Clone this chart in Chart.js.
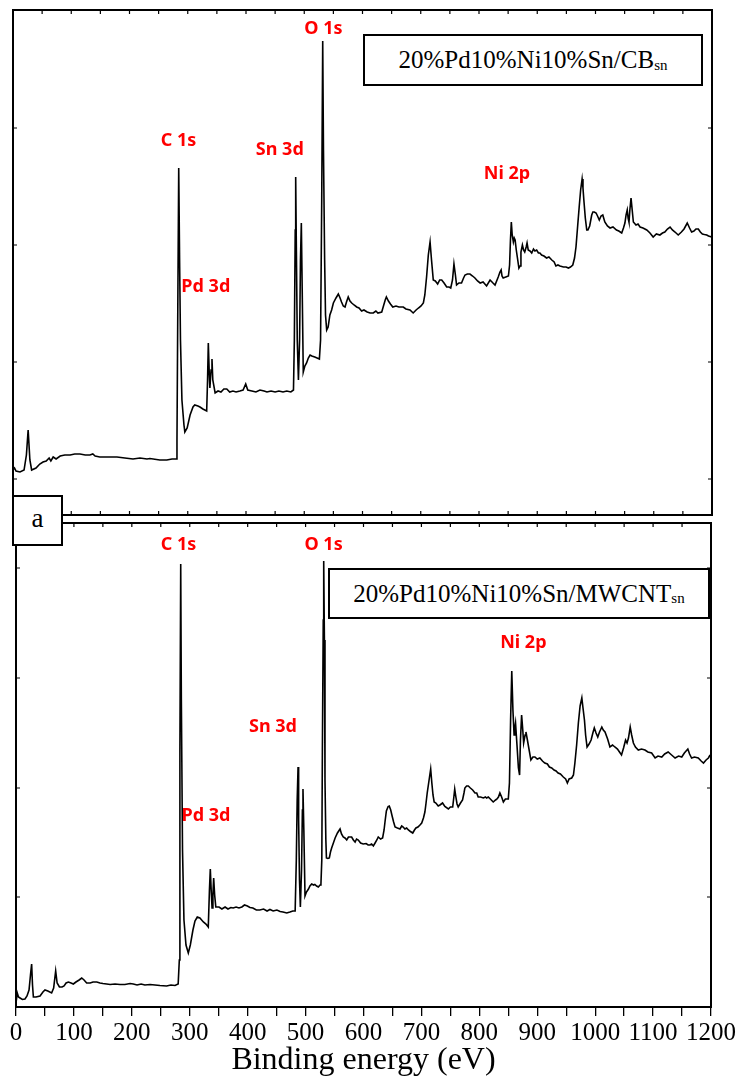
<!DOCTYPE html>
<html>
<head>
<meta charset="utf-8">
<title>XPS survey spectra</title>
<script src="https://cdn.jsdelivr.net/npm/chart.js@4.4.1/dist/chart.umd.min.js"></script>
<style>
  html, body { margin: 0; padding: 0; background: #fff; }
  #wrap { position: relative; width: 740px; height: 1083px; overflow: hidden; background: #fff; }
  #wrap canvas { position: absolute; left: 0; top: 0; }
  .sample {
    position: absolute; box-sizing: border-box; border: 2px solid #000; background: #fff;
    font-family: "Liberation Serif", "Times New Roman", serif; font-size: 25px; color: #000;
    display: flex; align-items: center; justify-content: center; white-space: nowrap; z-index: 5;
  }
  .sample sub { font-size: 15px; vertical-align: baseline; position: relative; top: 5px; }
  .tag { font-size: 27px; padding-bottom: 4px; }
</style>
</head>
<body>
<div id="wrap">
  <canvas id="cbChart" width="740" height="1083"></canvas>
  <canvas id="mwChart" width="740" height="1083"></canvas>
  <div class="sample" style="left:363px;top:34px;width:340px;height:52px;">20%Pd10%Ni10%Sn/CB<sub>sn</sub></div>
  <div class="sample" style="left:328px;top:568px;width:382px;height:51px;">20%Pd10%Ni10%Sn/MWCNT<sub>sn</sub></div>
  <div class="sample tag" style="left:12px;top:495px;width:51px;height:51px;">a</div>
</div>
<script>
// Binding-energy axis ticks (eV)
const energyTicks = [0, 50, 100, 150, 200, 250, 300, 350, 400, 450, 500, 550, 600,
                     650, 700, 750, 800, 850, 900, 950, 1000, 1050, 1100, 1150, 1200];
const energyLabels = [0, 100, 200, 300, 400, 500, 600, 700, 800, 900, 1000, 1100, 1200];

// Unlabelled intensity ticks (arbitrary units)
const cbIntensityTicks = [36, 153, 270, 387];
const mwIntensityTicks = [110, 219, 329, 439];

// 20%Pd10%Ni10%Sn/CBsn survey spectrum
const cbEnergy = [
  0, 2.6, 5.2, 12, 19, 23, 26, 29, 32, 39.5,
  46, 51.5, 57, 62, 65, 69, 74, 81, 89, 98,
  106, 115, 124, 132, 137, 141, 149, 166.5, 178.5, 192,
  206, 218, 230, 235, 252, 264, 273, 280, 281.5, 283,
  284.5, 286, 287.5, 290, 293.5, 295, 299, 304, 309, 312,
  317.5, 321, 326, 332.5, 334, 335.3, 337, 338, 340, 341.6,
  343, 347, 352, 357, 362, 367, 372, 377.5, 383, 389.5,
  395, 399.5, 403, 410, 417, 424, 431, 436, 443, 450,
  456.5, 463.5, 470, 477, 481.5, 483, 484.5, 485.3, 486.5, 488,
  490, 492, 493.5, 495, 496.5, 498.3, 501, 504, 507, 510,
  513, 518, 522, 526, 528, 530, 531.7, 533, 535, 536.5,
  538.5, 541, 544, 547, 550, 554.5, 558.5, 561.5, 564, 567,
  570, 572.5, 575.5, 578.5, 581.5, 585.5, 590, 594, 598.5, 602.5,
  608, 613, 618.5, 623, 626.5, 633, 636, 639, 641, 644.5,
  648, 652, 657.5, 662.5, 670, 674.5, 681.5, 687, 692, 696,
  700.5, 704.5, 707, 710, 713, 716, 718.5, 721.5, 725, 729,
  732.5, 736, 740, 744.5, 748.5, 751.5, 754.5, 757, 759.5, 761.5,
  765.5, 770, 773.5, 776, 780, 784.5, 789, 793, 797.5, 802,
  807, 813, 819, 824, 827.5, 833, 836, 838, 839.5, 841.5,
  846, 850.5, 852.5, 854, 855.5, 857, 859, 860.5, 862, 864,
  866.5, 868.5, 870.5, 872, 874.5, 876.5, 878.5, 881, 882.5, 884.5,
  887.5, 890.5, 893.5, 896, 899, 902, 904.5, 907.5, 911.5, 916,
  920, 925, 929, 932, 935.5, 939, 945, 949.5, 953.5, 957,
  961, 964, 966.5, 969.5, 972, 974.5, 977, 978.5, 980, 982.5,
  985, 987, 990, 993.5, 995.5, 998, 1001, 1003.5, 1006.5, 1009.5,
  1012.5, 1016, 1020.5, 1025, 1030, 1036, 1040, 1045, 1048, 1050.5,
  1052.5, 1054.5, 1056, 1057.5, 1059, 1061, 1063, 1065, 1069.5, 1073,
  1076.5, 1081.5, 1088, 1093.5, 1099, 1104.5, 1110.5, 1115, 1119, 1123.5,
  1128, 1132, 1136.5, 1142, 1147.5, 1152, 1157.5, 1161.5, 1165, 1169,
  1172.5, 1176.5, 1180, 1183.5, 1187, 1191, 1194, 1199.5
];
const cbIntensity = [
  45, 47, 44, 43, 45, 60, 85, 55, 45, 47,
  51, 53, 54, 57, 54, 58, 56, 59, 60, 60,
  61, 61, 60, 60, 61, 59, 58, 58, 58, 57,
  56, 57, 56, 56.5, 55, 55, 56, 56, 75, 215,
  347, 255, 175, 115, 90, 83, 87, 100, 108, 110,
  109, 108, 106, 104, 135, 172, 140, 127, 145, 156,
  135, 122, 124, 123, 126, 126, 123, 124, 123, 124,
  125, 131, 125, 124, 123, 125, 124, 123, 124, 123,
  124, 123, 124, 123, 125, 175, 285, 338, 265, 175,
  135, 175, 255, 292, 225, 143, 149, 152, 157, 160,
  159, 158, 157, 156, 175, 315, 474, 365, 255, 200,
  185, 188, 200, 205, 212, 217, 221, 217, 213, 209,
  208, 213, 218, 214, 212, 210, 208, 207, 204, 205,
  203, 202, 202, 204, 202, 203, 209, 215, 218, 214,
  211, 208, 209, 208, 208, 206, 205, 202, 205, 207,
  209, 212, 220, 238, 260, 273, 255, 235, 234, 231,
  235, 235, 232, 228, 228, 227, 235, 251, 240, 230,
  232, 232, 237, 240, 241, 241, 239, 237, 234, 232,
  233, 229, 235, 232, 230, 238, 243, 245, 239, 237,
  238, 239, 250, 275, 293, 280, 273, 277, 275, 265,
  255, 247, 249, 263, 270, 265, 263, 268, 272, 265,
  264, 262, 266, 264, 265, 262, 262, 260, 259, 257,
  258, 255, 253, 249, 250, 249, 248, 248, 247, 248,
  250, 257, 268, 290, 308, 325, 336, 327, 315, 297,
  285, 285, 289, 300, 303, 303, 302, 299, 295, 299,
  300, 293, 289, 287, 288, 285, 284, 282, 287, 292,
  300, 305, 297, 293, 305, 317, 305, 293, 290, 291,
  288, 287, 285, 282, 278, 281, 280, 282, 283, 286,
  288, 285, 283, 280, 283, 286, 292, 287, 283, 284,
  286, 286, 283, 281, 280.5, 280, 279, 278
];

// 20%Pd10%Ni10%Sn/MWCNTsn survey spectrum
const mwEnergy = [
  0, 2.2, 4.3, 7, 11, 15.5, 19, 22.5, 25, 27,
  28.5, 30, 34.5, 41.5, 46.5, 50, 55, 61.5, 65, 68.5,
  71, 75, 79.5, 83, 86.5, 90.5, 95, 99, 103.5, 109,
  113.5, 117.5, 122, 128, 133, 139.5, 145, 150, 156.5, 162.5,
  171, 179.5, 188, 197, 202.5, 209, 216, 222.5, 231.5, 240,
  248.5, 260, 267.5, 274.5, 280, 282, 283, 284.4, 285.5, 287.5,
  290, 293.5, 297.5, 301, 305.5, 309, 313, 317.5, 323.5, 328,
  332, 334, 335.5, 337, 338.5, 340, 341.3, 343, 345, 350.5,
  355.5, 361, 366, 371, 375, 380, 385, 390, 394.5, 399.5,
  404, 409, 415, 421, 427.5, 433.5, 438.5, 444, 450.5, 456,
  461, 467.5, 473, 478, 482, 484, 485.5, 487, 488, 489.5,
  491, 493, 494.5, 495.5, 497, 499, 501.5, 505, 507.5, 510.5,
  514, 516, 519, 522, 525, 526.5, 528, 529, 530.5, 531.3,
  532.5, 533.5, 535, 536, 538.5, 541, 543, 545, 548, 551,
  555, 559.5, 562, 565, 568, 571, 574, 579.5, 582.5, 585.5,
  588, 591, 595, 599.5, 604.5, 608, 611, 614, 617, 620,
  623, 625.5, 629.5, 633, 635.5, 637.5, 639.5, 642.5, 644.5, 647,
  649, 652, 654.5, 658.5, 663, 666, 668.5, 671.5, 674.5, 677.5,
  681, 685, 688, 690.5, 694, 697.5, 700.5, 703.5, 706, 708,
  710, 713, 716, 718, 720, 722, 725, 729, 732, 736.5,
  740.5, 746.5, 750, 754, 756, 757.5, 759.5, 761.5, 763.5, 767.5,
  771, 773.5, 775, 778, 781, 784.5, 788.5, 792.5, 795.5, 798,
  802, 807, 810.5, 812.5, 815.5, 819, 824, 828, 830.5, 833,
  835.5, 838.5, 841.5, 845, 850, 852, 854, 856, 858, 860,
  861.5, 862.5, 865, 867.5, 869.5, 871, 873, 875, 876.5, 879,
  880.5, 883, 886, 889, 892.5, 896, 900, 904.5, 909, 913,
  917.5, 921, 925, 929, 932.5, 936, 940, 945, 949, 952,
  955, 959.5, 962.5, 965, 968, 971, 974, 977, 979, 981.5,
  983.5, 986, 989.5, 993, 996, 998.5, 1001.5, 1004.5, 1007.5, 1011.5,
  1014, 1017, 1021.5, 1025.5, 1030, 1034, 1038.5, 1042, 1045.5, 1049,
  1052.5, 1055, 1057.5, 1060.5, 1063, 1066, 1069.5, 1074.5, 1080, 1086,
  1091, 1097.5, 1103.5, 1108.5, 1115, 1120, 1126, 1132, 1138, 1144,
  1149.5, 1154, 1160, 1163, 1166.5, 1171.5, 1178, 1183, 1187, 1191.5,
  1195.5, 1198.5
];
const mwIntensity = [
  4, 14, 10, 9, 7.5, 8, 11, 17, 32, 43,
  22, 10, 10, 11, 15, 17, 16, 14, 19, 36,
  24, 20, 20, 21, 24, 25, 24, 23, 25, 27,
  29, 27, 24, 24, 25, 25, 24, 23.5, 23, 22.5,
  23, 22.5, 22.5, 23.5, 23, 22, 23, 22, 22.5, 22,
  21.5, 21, 22, 21.5, 23, 47, 257, 443, 307, 157,
  87, 62, 54, 62, 77, 86, 90, 89, 85, 83,
  80, 117, 138, 117, 99, 112, 129, 112, 100, 100,
  98, 100, 98, 99.5, 99, 100, 99, 100, 102, 101,
  99.5, 99, 97, 97, 98, 96, 97.5, 96, 97, 95.5,
  95, 94, 95, 96, 96, 147, 207, 240, 187, 127,
  100, 137, 197, 218, 177, 111, 115, 118, 121, 123,
  122, 122.5, 121, 120, 122, 123, 147, 257, 387, 446,
  367, 227, 167, 149, 148.5, 149, 155, 159, 164, 169,
  174, 178, 173, 170, 169, 167, 170, 170, 167, 165,
  168, 167, 164, 163, 163.5, 162, 162, 163, 161, 164,
  167, 170, 168, 169, 177, 187, 196, 200.5, 201, 197,
  192, 185, 180, 179, 178, 181, 180, 178, 179, 177,
  175.5, 174, 177, 179, 180, 182, 184, 189, 195, 204,
  214, 226, 238, 224, 212, 205, 204, 201, 202, 204,
  200.5, 198, 200, 200, 210, 218, 210, 203, 200, 204,
  207, 214, 219, 221, 221, 219, 217, 214, 214, 210,
  210, 209, 210, 209, 210, 208, 205, 207, 208, 210,
  214, 210, 205, 208, 208, 224, 287, 336, 297, 272,
  280, 284, 262, 239, 232, 267, 292, 277, 264, 272,
  275, 267, 257, 247, 250, 250, 248, 249, 246, 244,
  243, 240, 239, 237, 236, 234, 233, 230, 228, 224,
  228, 229, 232, 244, 262, 284, 301, 309, 299, 287,
  272, 260, 263, 267, 274, 279, 274, 270, 275, 280,
  277, 275, 268, 260, 262, 260, 258, 255, 252, 259,
  267, 264, 269, 280, 272, 264, 260, 257, 258, 257,
  255, 254, 249, 251, 250, 253, 255, 252, 249, 251,
  250, 254, 258, 253, 249, 250, 249, 246, 244, 247,
  249, 252
];

// Peak assignments: text, energy (eV) and baseline level on the intensity scale
const cbPeakNames = [
  { text: 'O 1s',  energy: 533, level: 481 },
  { text: 'C 1s',  energy: 284, level: 369 },
  { text: 'Sn 3d', energy: 458, level: 360 },
  { text: 'Ni 2p', energy: 848, level: 336.5 },
  { text: 'Pd 3d', energy: 331, level: 223 }
];
const mwPeakNames = [
  { text: 'C 1s',  energy: 280.6, level: 457 },
  { text: 'O 1s',  energy: 531, level: 457 },
  { text: 'Ni 2p', energy: 876, level: 359 },
  { text: 'Sn 3d', energy: 443.7, level: 275 },
  { text: 'Pd 3d', energy: 328, level: 186.3 }
];

function toPoints(xs, ys) {
  return xs.map((e, i) => ({ x: e, y: ys[i] }));
}

// Draws the boxed frame, inward ticks and red peak names of one panel
const panelFrame = {
  id: 'panelFrame',
  afterDatasetsDraw(chart, args, opts) {
    const { ctx, chartArea: a } = chart;
    const x = chart.scales.x, y = chart.scales.y;
    ctx.save();
    ctx.strokeStyle = '#000';
    ctx.lineWidth = 1.2;
    ctx.beginPath();
    for (const e of energyTicks) {
      const px = x.getPixelForValue(e);
      ctx.moveTo(px, a.top); ctx.lineTo(px, a.top + 4);
      if (opts.innerBottomTicks) { ctx.moveTo(px, a.bottom); ctx.lineTo(px, a.bottom - 4); }
    }
    for (const v of opts.yTicks) {
      const py = y.getPixelForValue(v);
      ctx.moveTo(a.left, py); ctx.lineTo(a.left + 4, py);
      ctx.moveTo(a.right, py); ctx.lineTo(a.right - 4, py);
    }
    ctx.stroke();
    ctx.lineWidth = 2;
    ctx.strokeRect(a.left, a.top, a.right - a.left, a.bottom - a.top);

    ctx.fillStyle = '#ff0000';
    ctx.font = 'bold 18px "Noto Sans", "Open Sans", sans-serif';
    ctx.textAlign = 'center';
    ctx.textBaseline = 'alphabetic';
    for (const p of opts.peaks) {
      ctx.fillText(p.text, x.getPixelForValue(p.energy), y.getPixelForValue(p.level));
    }
    ctx.restore();
  }
};

const lineStyle = {
  borderColor: '#000',
  borderWidth: 1.6,
  pointRadius: 0,
  tension: 0,
  fill: false
};

// Upper panel: CB support
new Chart(document.getElementById('cbChart'), {
  type: 'line',
  data: { datasets: [{ ...lineStyle, label: '20%Pd10%Ni10%Sn/CBsn', data: toPoints(cbEnergy, cbIntensity) }] },
  options: {
    responsive: false, animation: false, devicePixelRatio: 1,
    layout: { padding: { left: 13, right: 28, top: 10, bottom: 568 } },
    scales: {
      x: { type: 'linear', display: false, min: 0, max: 1200 },
      y: { type: 'linear', display: false, min: 0, max: 505 }
    },
    plugins: {
      legend: { display: false }, tooltip: { enabled: false },
      panelFrame: { yTicks: cbIntensityTicks, peaks: cbPeakNames, innerBottomTicks: true }
    }
  },
  plugins: [panelFrame]
});

// Lower panel: MWCNT support, carries the energy axis
new Chart(document.getElementById('mwChart'), {
  type: 'line',
  data: { datasets: [{ ...lineStyle, label: '20%Pd10%Ni10%Sn/MWCNTsn', data: toPoints(mwEnergy, mwIntensity) }] },
  options: {
    responsive: false, animation: false, devicePixelRatio: 1,
    layout: { padding: { left: 16, right: 29, top: 523, bottom: 0 } },
    scales: {
      x: {
        type: 'linear', position: 'bottom', min: 0, max: 1200,
        afterBuildTicks(scale) { scale.ticks = energyTicks.map(v => ({ value: v })); },
        afterFit(scale) { scale.height = 76; },
        ticks: {
          autoSkip: false, maxRotation: 0, minRotation: 0, padding: 2, color: '#000',
          font: { family: '"Liberation Serif", "Times New Roman", serif', size: 25 },
          callback: v => energyLabels.includes(v) ? String(v) : ''
        },
        grid: { drawOnChartArea: false, drawTicks: true, tickLength: 9, color: '#000', lineWidth: 1.3 },
        border: { display: true, color: '#000', width: 2 },
        title: {
          display: true, text: 'Binding energy (eV)', color: '#000',
          font: { family: '"Liberation Serif", "Times New Roman", serif', size: 32 },
          padding: { top: 0, bottom: 3 }
        }
      },
      y: { type: 'linear', display: false, min: 0, max: 484 }
    },
    plugins: {
      legend: { display: false }, tooltip: { enabled: false },
      panelFrame: { yTicks: mwIntensityTicks, peaks: mwPeakNames, innerBottomTicks: false }
    }
  },
  plugins: [panelFrame]
});
</script>
</body>
</html>
